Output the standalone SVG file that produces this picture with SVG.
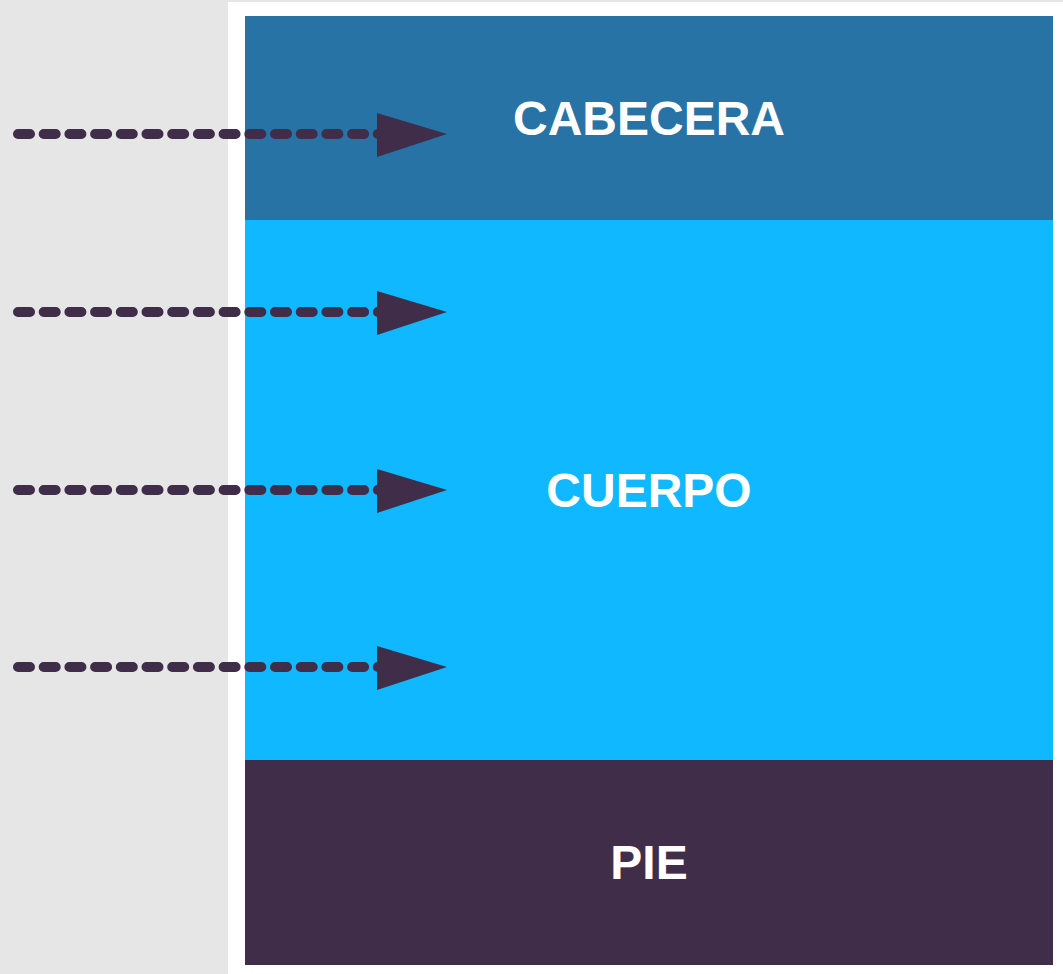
<svg xmlns="http://www.w3.org/2000/svg" width="1063" height="974" viewBox="0 0 1063 974">
<defs>
<style>
.lbl{font-family:"Liberation Sans",Arial,sans-serif;font-weight:bold;font-size:48px;fill:#ffffff;text-anchor:middle}
.dash{stroke:#3f2d4a;stroke-width:10;stroke-linecap:round;stroke-dasharray:12 13.7;fill:none}
.head{fill:#3f2d4a}
</style>
</defs>
<rect x="0" y="0" width="1063" height="974" fill="#e6e6e6"/>
<rect x="228" y="2" width="835" height="972" fill="#ffffff"/>
<g id="cabecera">
<rect x="245" y="16" width="808" height="204" fill="#2773a5"/>
<text class="lbl" x="649" y="135">CABECERA</text>
</g>
<g id="cuerpo">
<rect x="245" y="220" width="808" height="540" fill="#10b8ff"/>
<text class="lbl" x="649" y="507">CUERPO</text>
</g>
<g id="pie">
<rect x="245" y="760" width="808" height="205" fill="#3f2d4a"/>
<text class="lbl" x="649" y="879">PIE</text>
</g>
<g id="connectors">
<line class="dash" x1="18" y1="134" x2="380" y2="134"/>
<polygon class="head" points="377,113 447,134 377,157"/>
<line class="dash" x1="18" y1="312" x2="380" y2="312"/>
<polygon class="head" points="377,291 447,312 377,335"/>
<line class="dash" x1="18" y1="490" x2="380" y2="490"/>
<polygon class="head" points="377,469 447,490 377,513"/>
<line class="dash" x1="18" y1="667" x2="380" y2="667"/>
<polygon class="head" points="377,646 447,667 377,690"/>
</g>
</svg>
